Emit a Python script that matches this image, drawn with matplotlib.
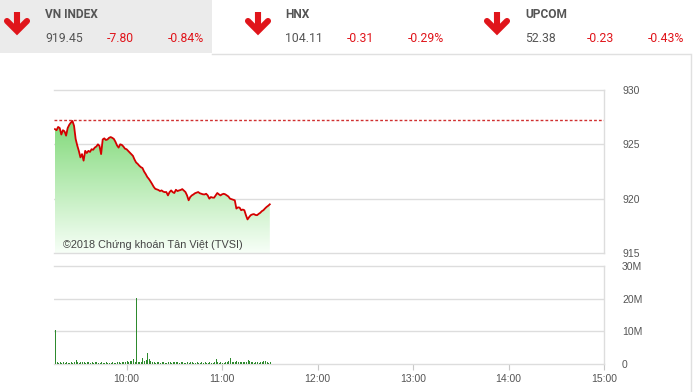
import numpy as np
import matplotlib
matplotlib.use("Agg")
import matplotlib.pyplot as plt
from matplotlib.lines import Line2D
from matplotlib.patches import Rectangle, Polygon

# ---------------- data ----------------
indices = ["VN INDEX", "HNX", "UPCOM"]
index_values = ["919.45", "104.11", "52.38"]
index_changes = ["-7.80", "-0.31", "-0.23"]
index_pcts = ["-0.84%", "-0.29%", "-0.43%"]

reference_price = 927.25
start_time = "09:15"   # one value per minute from start_time to 11:30

prices = [
    926.4, 926.3, 926.6, 926.5, 925.9, 926.3, 926.2, 925.8, 926.5, 926.8, 927.0, 927.15, 926.7, 925.5, 924.9,   # 9:15
    924.4, 923.8, 924.1, 923.5, 924.4, 924.2, 924.4, 924.3, 924.55, 924.5, 924.7, 924.8, 925.0, 924.85, 924.1,  # 9:30
    925.45, 925.55, 925.4, 925.45, 925.6, 925.67, 925.6, 925.5, 925.24, 924.9, 924.7, 925.0, 924.95, 924.8, 924.6,  # 9:45
    924.55, 924.4, 924.24, 924.1, 923.94, 923.6, 923.33, 923.2, 923.03, 922.9, 922.82, 922.5, 922.27, 922.0, 921.82,  # 10:00
    921.6, 921.36, 921.1, 920.91, 920.85, 920.8, 920.7, 920.76, 920.65, 920.6, 920.61, 920.3, 920.6, 920.76, 920.6,  # 10:15
    920.52, 920.82, 920.7, 920.76, 920.8, 920.88, 920.75, 920.61, 920.3, 919.85, 920.15, 920.3, 920.39, 920.5, 920.55,  # 10:30
    920.61, 920.5, 920.45, 920.4, 920.39, 920.45, 920.3, 920.0, 920.15, 920.1, 920.09, 920.3, 920.52, 920.4, 920.3,  # 10:45
    920.4, 920.45, 920.4, 920.3, 920.2, 920.0, 919.95, 919.9, 919.85, 919.09, 919.2, 919.18, 918.94, 919.0, 918.94,  # 11:00
    918.48, 918.09, 918.3, 918.48, 918.55, 918.58, 918.5, 918.48, 918.6, 918.7, 918.85, 918.94, 919.1, 919.24, 919.35,  # 11:15
    919.48,  # 11:30
]

volumes_m = [
    10.4, 0.5, 0.4, 0.6, 0.3, 0.5, 0.4, 0.6, 0.4, 0.3, 0.5, 0.4, 0.6, 1.2, 0.5,
    0.4, 0.6, 0.5, 0.7, 0.4, 0.5, 0.6, 0.4, 0.5, 0.3, 0.6, 0.5, 0.4, 0.3, 0.5,
    0.4, 0.3, 0.5, 0.4, 0.3, 0.4, 0.5, 0.3, 0.4, 0.6, 0.5, 0.4, 0.5, 0.7, 0.6,
    0.8, 0.6, 0.9, 1.0, 1.5, 0.7, 20.1, 0.5, 0.6, 0.5, 1.7, 0.8, 1.1, 3.3, 1.6,
    0.9, 0.6, 0.5, 0.4, 0.5, 0.6, 0.4, 0.7, 0.5, 0.4, 0.3, 0.6, 0.5, 0.4, 0.5,
    0.7, 0.5, 0.6, 0.4, 0.5, 0.6, 0.4, 0.3, 0.5, 0.4, 0.5, 0.6, 0.4, 0.3, 0.5,
    0.4, 0.3, 0.5, 0.4, 0.6, 0.3, 0.4, 0.5, 0.3, 0.4, 0.5, 1.5, 0.6, 0.4, 0.5,
    0.3, 0.4, 0.5, 0.6, 0.8, 1.9, 0.7, 0.5, 0.6, 0.9, 0.7, 0.6, 0.5, 0.7, 0.6,
    0.5, 1.2, 0.9, 0.6, 0.5, 0.4, 0.6, 0.5, 0.4, 0.5, 0.6, 0.8, 1.0, 0.5, 0.4,
    0.5,
]

x_tick_labels = ["10:00", "11:00", "12:00", "13:00", "14:00", "15:00"]
price_ticks = [915, 920, 925, 930]
volume_ticks = [0, 10, 20, 30]
volume_tick_labels = ["0", "10M", "20M", "30M"]
copyright_text = "©2018 Chứng khoán Tân Việt (TVSI)"


def to_min(s):
    h, m = s.split(":")
    return int(h) * 60 + int(m) - 9 * 60   # minutes after 9:00


t0 = to_min(start_time)
t = np.array([t0 + i for i in range(len(prices))], dtype=float)
tv = np.array([t0 + i for i in range(len(volumes_m))], dtype=float)

# ---------------- figure ----------------
W, H = 693, 392
fig = plt.figure(figsize=(W / 100, H / 100), dpi=100)
fig.patch.set_facecolor("white")


def fx(x):
    return x / W


def fy(y):
    return 1 - y / H


def ax_rect(l, t_, r, b):
    return [fx(l), fy(b), (r - l) / W, (b - t_) / H]


GRID = "#dddddd"
TXT = "#555555"
RED = "#e0151b"

# header box and frame lines
fig.add_artist(Rectangle((0, fy(53)), fx(212), 53 / H, transform=fig.transFigure,
                         facecolor="#ebebeb", edgecolor="none", zorder=0))
fig.add_artist(Line2D([fx(212), fx(690)], [fy(53.5), fy(53.5)], transform=fig.transFigure,
                      color="#e0e0e0", lw=1))
fig.add_artist(Line2D([fx(690.5), fx(690.5)], [fy(53.5), fy(392)], transform=fig.transFigure,
                      color="#e0e0e0", lw=1))

arrow_x = [17, 258, 497]
text_x = [45, 285, 525]
chg_x = [107, 347, 587]
pct_x = [168, 408, 648]
narrow = ["Roboto", "DejaVu Sans"]
for i in range(3):
    cx = arrow_x[i]
    fig.add_artist(Line2D([fx(cx), fx(cx)], [fy(12), fy(31)], transform=fig.transFigure,
                          color=RED, lw=4.4, solid_capstyle="butt"))
    fig.add_artist(Line2D([fx(cx - 10), fx(cx), fx(cx + 10)], [fy(21), fy(31), fy(21)],
                          transform=fig.transFigure, color=RED, lw=4.4,
                          solid_capstyle="round", solid_joinstyle="miter"))
    fig.text(fx(text_x[i]), fy(15), indices[i], fontsize=8.6, fontweight="bold",
             color=TXT, family=narrow, va="center", ha="left")
    fig.text(fx(text_x[i]), fy(38), index_values[i], fontsize=8.8, color=TXT,
             family=narrow, va="center", ha="left")
    fig.text(fx(chg_x[i]), fy(38), index_changes[i], fontsize=8.8, color=RED,
             family=narrow, va="center", ha="left")
    fig.text(fx(pct_x[i]), fy(38), index_pcts[i], fontsize=8.8, color=RED,
             family=narrow, va="center", ha="left")

XMIN, XMAX = 14.4, 360

# ---------------- price panel ----------------
ax = fig.add_axes(ax_rect(54, 90, 604, 253))
ax.set_xlim(XMIN, XMAX)
ax.set_ylim(915, 930)
ax.set_facecolor("none")
ax.spines["left"].set_visible(False)
for s in ["right", "bottom", "top"]:
    ax.spines[s].set_color(GRID)
    ax.spines[s].set_linewidth(1)
ax.set_yticks(price_ticks)
ax.yaxis.tick_right()
ax.tick_params(axis="y", length=0, pad=13, labelsize=7.5, labelcolor=TXT)
for lab in ax.get_yticklabels():
    lab.set_family(["Liberation Sans", "DejaVu Sans"])
ax.set_xticks([])
for v in price_ticks[1:-1]:
    ax.axhline(v, color=GRID, lw=1, zorder=1)

# gradient fill under the line
poly_x = np.concatenate([[t[0]], t, [t[-1]]])
poly_y = np.concatenate([[915], prices, [915]])
poly = Polygon(np.column_stack([poly_x, poly_y]), closed=True, facecolor="none",
               edgecolor="none", transform=ax.transData)
ax.add_patch(poly)
grad = np.linspace(0, 1, 256).reshape(-1, 1)
top_c = np.array([0.50, 0.85, 0.47])
bot_c = np.array([0.97, 1.0, 0.97])
img = (bot_c[None, None, :] * (1 - grad[..., None]) + top_c[None, None, :] * grad[..., None])
im = ax.imshow(img, extent=[t[0], t[-1], 915, 927.3], origin="lower", aspect="auto", zorder=2)
im.set_clip_path(poly)

ax.axhline(reference_price, color="#d03030", lw=1, ls=(0, (2, 1.5)), zorder=3)
ax.plot(t, prices, color="#d40000", lw=1.3, zorder=4)
fig.text(fx(62.7), fy(245), copyright_text, fontsize=7.8, color="#444444",
         family=["Liberation Sans", "DejaVu Sans"], va="center", ha="left", zorder=5)

# ---------------- volume panel ----------------
axv = fig.add_axes(ax_rect(54, 266, 604, 364))
axv.set_xlim(XMIN, XMAX)
axv.set_ylim(0, 30)
axv.set_facecolor("none")
axv.spines["left"].set_visible(False)
for s in ["right", "bottom", "top"]:
    axv.spines[s].set_color(GRID)
    axv.spines[s].set_linewidth(1)
axv.set_yticks(volume_ticks)
axv.set_yticklabels(volume_tick_labels)
axv.yaxis.tick_right()
axv.tick_params(axis="y", length=0, pad=13, labelsize=7.5, labelcolor=TXT)
for v in volume_ticks[1:-1]:
    axv.axhline(v, color=GRID, lw=1, zorder=1)
axv.vlines(tv, 0, volumes_m, colors="#2e8a2e", linewidth=0.72, antialiased=False, zorder=3)
axv.set_xticks([to_min(s) for s in x_tick_labels])
axv.set_xticklabels(x_tick_labels)
axv.tick_params(axis="x", length=4, color="#c8c8c8", labelsize=7.5, labelcolor=TXT, pad=3)
for lab in axv.get_xticklabels() + axv.get_yticklabels():
    lab.set_family(["Liberation Sans", "DejaVu Sans"])

fig.savefig("out.png", dpi=100, facecolor="white")
